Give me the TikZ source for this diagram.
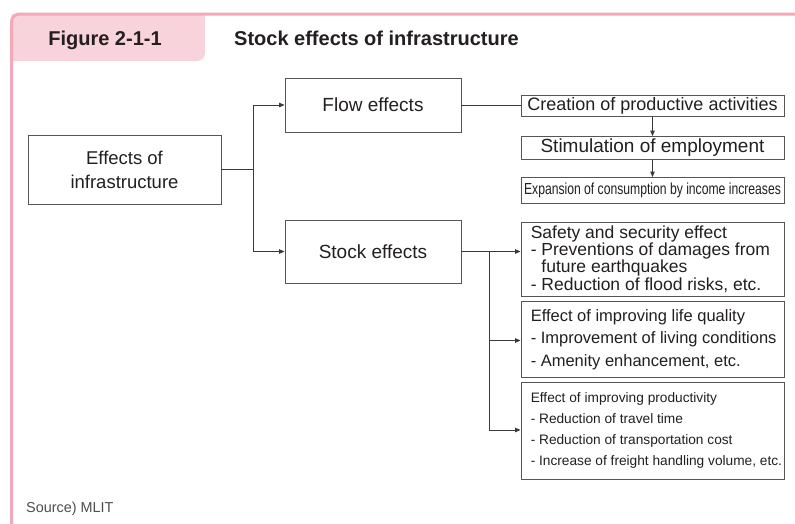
\documentclass[tikz,border=0pt]{standalone}
\usepackage{fontspec}
\setmainfont{Liberation Sans}
\usepackage{graphicx}
\usetikzlibrary{arrows.meta}
\definecolor{framepink}{HTML}{F4A8B8}
\definecolor{tabpink}{HTML}{F9D3DB}
\definecolor{txt}{HTML}{231F20}
\definecolor{edge}{HTML}{555555}
\definecolor{conncol}{HTML}{3A3A3A}
\begin{document}
\begin{tikzpicture}[x=1pt,y=-1pt,
  box/.style={draw=edge, line width=0.9pt, text=txt, inner sep=0pt},
  lbox/.style={box, minimum width=263pt},
  ltext/.style={anchor=west, align=left, text=txt, inner sep=0pt},
  conn/.style={draw=conncol, line width=0.9pt},
  arr/.style={conn, -{Triangle[length=5.5pt,width=4.5pt]}}]
\useasboundingbox (0,0) rectangle (795,523);
\fill[white] (0,0) rectangle (795,523);
% tab
\begin{scope}
\clip (11.5,14) rectangle (795,523);
\fill[tabpink, rounded corners=8pt] (-10,0) rectangle (205,61);
\end{scope}
% frame
\draw[framepink, line width=3pt, rounded corners=8pt] (11.5,530) -- (11.5,14) -- (800,14);
% titles
\node[anchor=base, text=txt, font=\bfseries\fontsize{20}{24}\selectfont, inner sep=0pt] (fig) at (105,45) {Figure 2-1-1};
\node[anchor=base west, text=txt, font=\bfseries\fontsize{20}{24}\selectfont, inner sep=0pt] (title) at (234,45) {Stock effects of infrastructure};
% boxes
\node[box, minimum width=193pt, minimum height=69pt, align=center, font=\fontsize{18.5}{24}\selectfont] (eff) at (124.5,169.5) {Effects of\\infrastructure};
\node[box, minimum width=176pt, minimum height=54pt, font=\fontsize{19}{23}\selectfont] (flow) at (373,105) {Flow effects};
\node[box, minimum width=176pt, minimum height=63pt, font=\fontsize{19}{23}\selectfont] (stock) at (373,251.5) {Stock effects};
\node[box, minimum width=263pt, minimum height=21.5pt, font=\fontsize{18}{21}\selectfont] (creation) at (652.5,105.75) {Creation of productive activities};
\node[box, minimum width=263pt, minimum height=23pt, font=\fontsize{19}{22}\selectfont] (stim) at (652.5,148) {Stimulation of employment};
\node[box, minimum width=263pt, minimum height=25.5pt, font=\fontsize{16}{19}\selectfont] (exp) at (652.5,190.25) {\scalebox{0.76}[1]{Expansion of consumption by income increases}};
\node[lbox, minimum height=74pt] (safety) at (652.5,259) {};
\node[ltext, font=\fontsize{17.5}{17.4}\selectfont] (safetyT) at ([xshift=10pt]safety.west) {Safety and security effect\\- Preventions of damages from\\\phantom{- }future earthquakes\\- Reduction of flood risks, etc.};
\node[lbox, minimum height=76pt] (life) at (652.5,339.5) {};
\node[ltext, font=\fontsize{16.5}{22.5}\selectfont] (lifeT) at ([xshift=10pt]life.west) {Effect of improving life quality\\- Improvement of living conditions\\- Amenity enhancement, etc.};
\node[lbox, minimum height=96.5pt] (prod) at (652.5,430.75) {};
\node[ltext, font=\fontsize{13.7}{21}\selectfont] (prodT) at ([xshift=10pt]prod.west) {Effect of improving productivity\\- Reduction of travel time\\- Reduction of transportation cost\\- Increase of freight handling volume, etc.};
% source
\node[anchor=base west, text=txt!80, font=\fontsize{14.4}{17}\selectfont, inner sep=0pt] (src) at (26,512.5) {Source) MLIT};
% connectors
\coordinate (fork) at (253,169.5);
\draw[conn] (eff.east) -- (fork);
\draw[arr] (fork) |- (flow.west);
\draw[arr] (fork) |- (stock.west);
\draw[conn] (flow.east) -- (flow.east -| creation.west);
\draw[arr] (creation.south) -- (stim.north);
\draw[arr] (stim.south) -- (exp.north);
\coordinate (s1) at (489,251.5);
\coordinate (s2) at (489,340.5);
\coordinate (s3) at (489,430);
\draw[conn] (stock.east) -- (s1);
\draw[conn] (s1) -- (s3);
\draw[arr] (s1) -- (s1 -| safety.west);
\draw[arr] (s2) -- (s2 -| life.west);
\draw[arr] (s3) -- (s3 -| prod.west);
\end{tikzpicture}
\end{document}
